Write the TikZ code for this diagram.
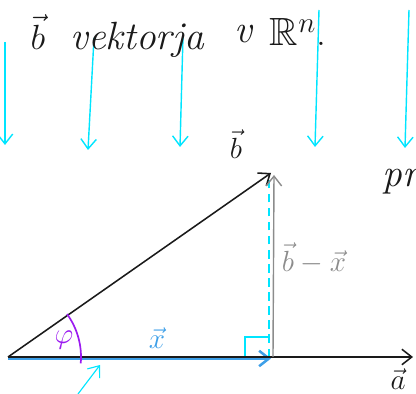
\documentclass[tikz,border=0pt]{standalone}
\usepackage{amsmath,amssymb}
\usepackage{xcolor}
\usepackage{tikz}
\usetikzlibrary{arrows.meta,calc}
\definecolor{blackmain}{HTML}{1A1A1A}
\definecolor{cyanrain}{HTML}{00E5FF}
\definecolor{bluex}{HTML}{3D9FE8}
\definecolor{grayvec}{HTML}{8C8C8C}
\definecolor{purpleang}{HTML}{9B1AF0}
\tikzset{every node/.append style={font=\fontsize{21}{25}\selectfont}}
\tikzset{vecline/.style={blackmain,line width=1.1pt},
  rain/.style={->,cyanrain,line width=1pt},
  titletext/.style={blackmain,font=\fontsize{28}{32}\selectfont}}

\begin{document}
\begin{tikzpicture}[>={Straight Barb[length=7pt,width=11pt]},x=.025cm,y=.025cm]
  \useasboundingbox (0,0) rectangle (416,394);
  \clip (0,0) rectangle (416,394);
  \coordinate (O) at (8,37);
  \coordinate (F) at (273,37);
  \coordinate (B) at (271,221);
  \coordinate (A) at (413,37);
  \coordinate (G) at (274,219);
  \coordinate (Q) at (269,221);
  \coordinate (P) at (78,0);
  \coordinate (R) at (100,29);
  % falling vectors
  \foreach \xa/\ya/\xb/\yb in {5/352/5/249,94/356/88/244,183/358/180/247,
    319/384/315/247,409/384/405/246}
    \draw[rain] (\xa,\ya)--(\xb,\yb);
  % title
  \node[titletext] (tb) at (38,362) {$\vec{b}$};
  \node[titletext] (tvek) at (137,354) {\itshape vektorja};
  \node[titletext] (tv) at (243,360) {\itshape v};
  \node[titletext] (tr) at (298,362) {$\mathbb{R}^n$.};
  % triangle
  \draw[cyanrain,line width=1.2pt,dash pattern=on 6pt off 4pt] (269,37) -- (Q);
  \draw[cyanrain,line width=1pt] (245,37)--(245,57)--(268,57);
  \draw[->,bluex,line width=1.8pt] ($(O)+(0,-1.5)$)--($(F)+(-2,-1.5)$);
  \draw[->,vecline] (O)--(A);
  \draw[->,vecline] (O)--(B);
  \draw[->,grayvec,line width=1pt] (F)--(G);
  \draw[purpleang,line width=1.2pt] (O) ++(36:73) arc[start angle=36,end angle=-5,radius=73];
  \draw[->,cyanrain,line width=.8pt] (P)--(R);
  % labels
  \node[blackmain] (lb) at (236,250) {$\vec{b}$};
  \node[bluex] (lx) at (157,56) {$\vec{x}$};
  \node[grayvec] (lbx) at (314,136) {$\vec{b}-\vec{x}$};
  \node[blackmain] (la) at (398,15) {$\vec{a}$};
  \node[purpleang] (lphi) at (64,54) {$\varphi$};
  \node[titletext,anchor=west] (lpr) at (378,212) {\itshape pr};
\end{tikzpicture}
\end{document}
